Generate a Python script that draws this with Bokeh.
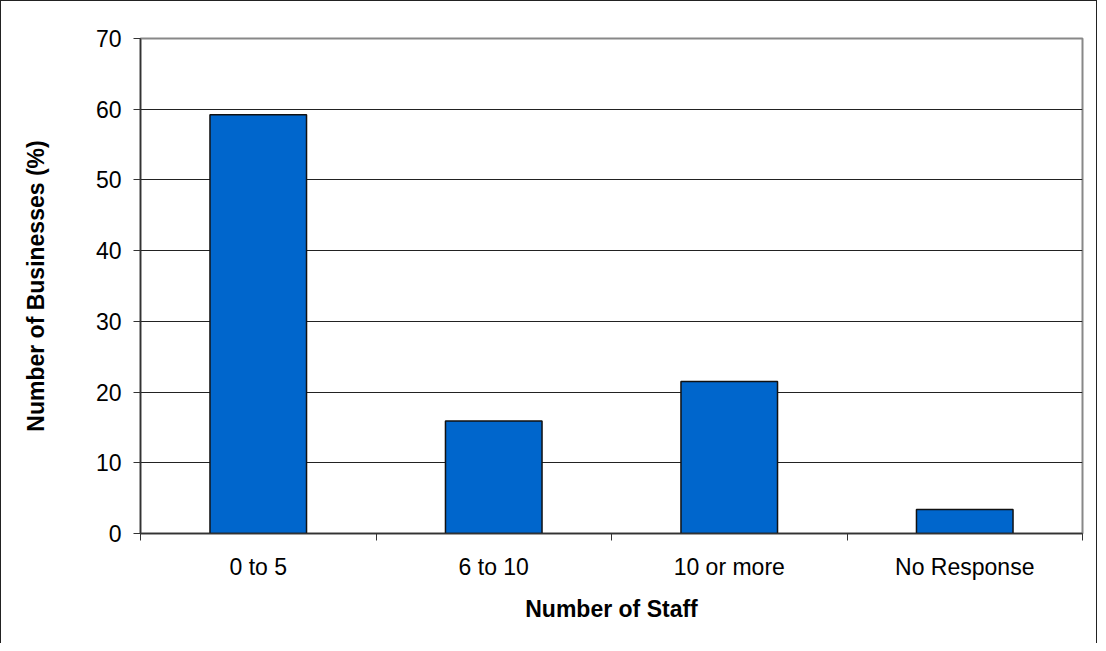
from bokeh.plotting import figure
from bokeh.models import Range1d, FixedTicker
from bokeh.embed import file_html
from bokeh.resources import INLINE

categories = ["0 to 5", "6 to 10", "10 or more", "No Response"]
values = [59.2, 15.9, 21.5, 3.4]
y_ticks = [0, 10, 20, 30, 40, 50, 60, 70]

FONT = "Liberation Sans"

p = figure(width=1097, height=643, output_backend="svg", toolbar_location=None,
           x_range=Range1d(0, len(categories)), y_range=Range1d(0, 70),
           min_border_left=139, min_border_right=16, min_border_top=37, min_border_bottom=111)

p.styles = {"border-left": "1px solid #222", "border-top": "1px solid #222",
            "border-right": "1px solid #222", "box-sizing": "border-box"}

xs = [i + 0.5 for i in range(len(categories))]
p.vbar(x=xs, top=values, width=0.41, bottom=0, fill_color="#0066CC",
       line_color="#111111", line_width=1.5)

p.outline_line_color = "#888888"
p.outline_line_width = 2

# grid
p.xgrid.grid_line_color = None
p.ygrid.ticker = FixedTicker(ticks=y_ticks[:-1])
p.ygrid.grid_line_color = "#222222"
p.ygrid.grid_line_width = 1

# x axis
p.xaxis.ticker = FixedTicker(ticks=xs, minor_ticks=list(range(len(categories) + 1)))
p.xaxis.major_label_overrides = {x: c for x, c in zip(xs, categories)}
p.xaxis.major_tick_out = 0
p.xaxis.major_tick_in = 0
p.xaxis.minor_tick_out = 7
p.xaxis.minor_tick_in = 0
p.xaxis.minor_tick_line_color = "#333333"
p.xaxis.axis_line_color = "#333333"
p.xaxis.axis_label = "Number of Staff"
p.xaxis.major_label_standoff = 13

# y axis
p.yaxis.ticker = FixedTicker(ticks=y_ticks, minor_ticks=[])
p.yaxis.major_tick_out = 7
p.yaxis.major_tick_in = 0
p.yaxis.major_tick_line_color = "#333333"
p.yaxis.axis_line_color = "#333333"
p.yaxis.axis_label = "Number of Businesses (%)"
p.yaxis.major_label_standoff = 12
p.yaxis.axis_label_standoff = 44

for ax in (p.xaxis[0], p.yaxis[0]):
    ax.major_label_text_font = FONT
    ax.major_label_text_font_size = "23px"
    ax.major_label_text_color = "#000000"
    ax.axis_label_text_font = FONT
    ax.axis_label_text_font_size = "23px"
    ax.axis_label_text_font_style = "bold"
    ax.axis_label_text_color = "#000000"
    ax.axis_line_width = 1.5

p.xaxis.axis_label_standoff = 13

open("out.html", "w").write(file_html(p, INLINE))
